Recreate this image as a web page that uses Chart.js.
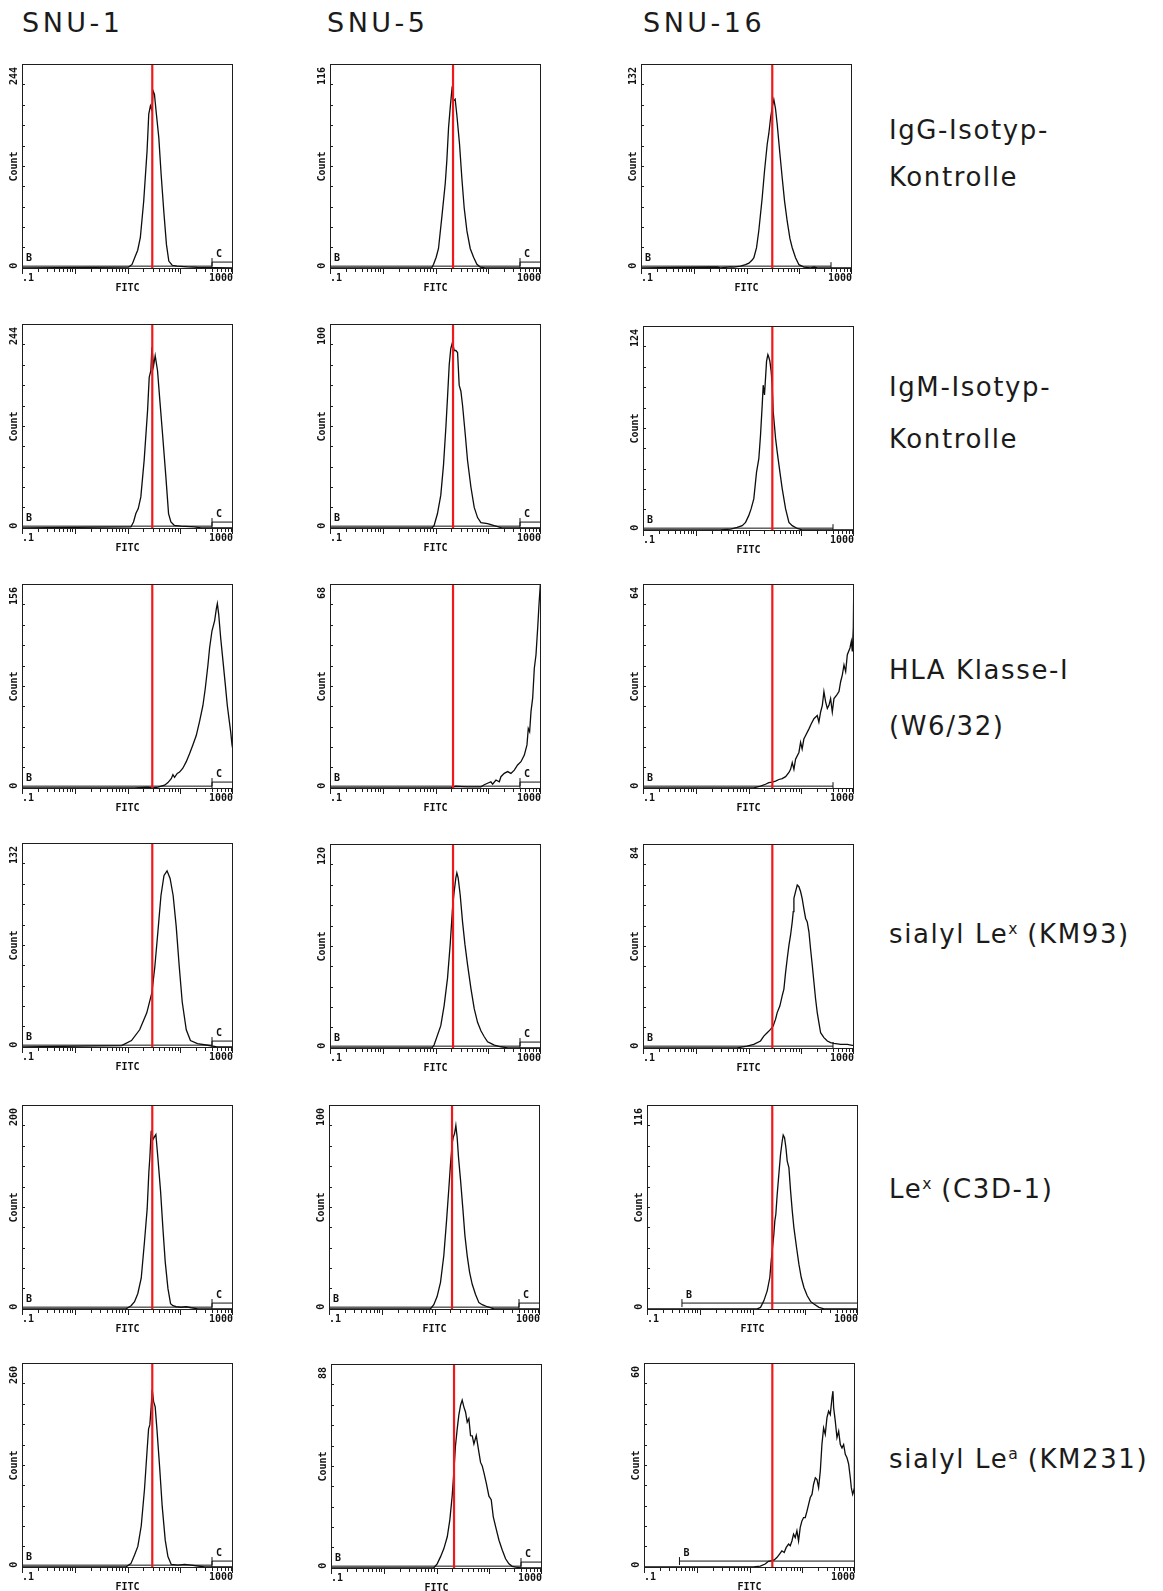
<!DOCTYPE html>
<html>
<head>
<meta charset="utf-8">
<title>FACS histograms SNU-1 / SNU-5 / SNU-16</title>
<script src="https://cdn.jsdelivr.net/npm/chart.js@4.4.1/dist/chart.umd.min.js"></script>
<style>
  html, body { margin: 0; padding: 0; background: #fff; }
  #page { position: relative; width: 1163px; height: 1591px; overflow: hidden; }
  .hdr, .lbl { position: absolute; font-family: 'DejaVu Sans', Verdana, sans-serif; color: #1b1b1b; white-space: nowrap; }
  .hdr { font-size: 27px; line-height: 27px; letter-spacing: 3.5px; }
  .lbl { font-size: 26px; line-height: 26px; letter-spacing: 1.6px; }
  .sup { position: relative; top: -0.55em; font-size: 0.6em; letter-spacing: 0; }
  canvas { position: absolute; }
</style>
</head>
<body>
<div id="page"></div>
<script>
// Column headers (cell lines) and row labels (antibodies)
const cellLines = ['SNU-1', 'SNU-5', 'SNU-16'];
const stainings = [
  ['IgG-Isotyp-', 'Kontrolle'],
  ['IgM-Isotyp-', 'Kontrolle'],
  ['HLA Klasse-I', '(W6/32)'],
  ['sialyl Le<span class="sup">x</span> (KM93)'],
  ['Le<span class="sup">x</span> (C3D-1)'],
  ['sialyl Le<span class="sup">a</span> (KM231)'],
];

// y-axis maximum printed on each histogram (rows x columns)
const countMax = [
  [244, 116, 132],
  [244, 100, 124],
  [156, 68, 64],
  [132, 120, 84],
  [200, 100, 116],
  [260, 88, 60],
];

// FITC position of the red isotype cut-off line
const cutoffs = [
  [29.5, 21.5, 30.8],
  [29.5, 21.5, 28.3],
  [29.5, 21.5, 28.3],
  [29.5, 21.5, 28.3],
  [29.5, 21.5, 23.7],
  [29.5, 21.5, 27.1],
];

// Marker regions B and C (FITC ranges), null = not shown
const gateB = [
  [[0.1, 400], [0.1, 400], [0.1, 400]],
  [[0.1, 400], [0.1, 400], [0.1, 400]],
  [[0.1, 400], [0.1, 400], [0.1, 400]],
  [[0.1, 400], [0.1, 400], [0.1, 400]],
  [[0.1, 400], [0.1, 400], [0.46, 1000]],
  [[0.1, 400], [0.1, 400], [0.47, 1000]],
];
const gateC = [
  [[400, 1000], [400, 1000], null],
  [[400, 1000], [400, 1000], null],
  [[400, 1000], [400, 1000], null],
  [[400, 1000], [400, 1000], null],
  [[400, 1000], [400, 1000], null],
  [[400, 1000], [400, 1000], null],
];

// Histogram traces: [FITC, count]
const snu1IgG = [[0.1,0],[10.5,0.8],[12.2,4],[14.1,14],[15.6,21],[17.5,36],[20.3,80],[23.5,140],[25.3,184],[27.2,194],[29.2,188],[30.5,212],[32.4,208],[35.3,184],[39.2,156],[43.4,112],[48.7,68],[54.7,28],[60.7,8],[70.2,3],[87.3,2],[135,1],[210,0.5],[1000,0]];
const snu5IgG = [[0.1,0],[8.5,0],[9.2,2],[10.3,6],[11.4,11],[13.2,29],[15.3,48],[16.4,61],[17.7,80],[19.0,91],[20.4,101],[22.0,95],[23.6,96],[25.4,87],[28.6,70],[31.6,51],[35.0,34],[39.4,21],[45.5,11],[52.7,6],[60.9,2],[70.5,0.4],[87.7,0],[1000,0]];
const snu16IgG = [[0.1,0],[2.8,0.5],[3.2,0],[5.0,0.6],[5.7,0.4],[7.7,1],[9.6,2],[11.1,3],[12.8,5],[13.8,6.5],[15.5,13],[17.1,24],[19.8,45],[22.0,63],[24.7,80],[26.5,87],[28.6,97],[30.7,104],[33.0,109],[35.5,103],[38.2,93],[42.4,76],[47.6,58],[52.7,43],[59.2,30],[66.5,19],[73.6,13],[85.1,6.5],[98.6,2],[123,0.4],[164,0],[190,0.5],[220,0],[1000,0]];

const snu1IgM = [[0.1,0],[11.6,1],[13.0,7],[14.4,17],[16.0,23],[17.9,37],[20.7,81],[24.0,140],[25.8,180],[27.7,188],[29.0,216],[31.2,194],[33.5,206],[37.1,188],[41.1,152],[46.2,112],[53.4,61],[60.0,17],[66.5,7],[76.9,3],[103,2],[185,1],[247,0],[1000,0]];
const snu5IgM = [[0.1,0],[8.6,0],[9.4,1],[10.9,7],[12.6,16],[14.2,31],[15.7,49],[16.9,64],[18.2,80],[19.5,88],[21.0,91],[22.6,87],[24.3,87],[26.2,86],[28.1,70],[30.3,67],[32.6,60],[36.6,46],[40.5,33],[46.9,20],[54.2,10],[62.7,5],[72.6,2.5],[97.1,2],[130,1],[180,0],[1000,0]];
const snu16IgM = [[0.1,0],[2.9,0],[4.6,0.4],[6.1,1.4],[7.6,2.5],[8.8,4.5],[10.1,8.6],[11.2,12.7],[12.6,18.8],[14.2,35.1],[15.7,43.3],[16.9,57.6],[18.2,76],[19.0,88],[20.1,82],[22.0,102.6],[23.3,106.6],[24.3,105],[25.4,102.6],[26.9,96.4],[28.1,88],[29.4,72],[32.6,55.6],[35.0,47.4],[39.4,35.1],[43.6,24.9],[50.5,12.7],[58.4,4.5],[67.5,2.5],[84.0,0.8],[104,0],[1000,0]];

const snu1HLA = [[0.1,0],[13.6,0],[24.3,0.5],[30.3,0],[37.7,0.5],[50.5,2],[58.4,4],[67.5,7],[72.6,10],[78.0,8],[87.7,11],[97.1,12],[112,15],[130,20],[150,26],[174,33],[201,40],[233,51],[269,63],[298,76],[335,94],[360,107],[399,120],[449,128],[483,137],[505,141],[535,133],[583,115],[646,97],[715,79],[780,63],[839,53],[903,43],[957,33],[986,30],[1000,170]];
const snu5HLA = [[0.1,0],[19.5,0],[24,0.5],[40,0.3],[72.6,0.3],[84,1],[97.1,1.5],[112,2],[121,1.2],[140,2.6],[162,2],[174,3.7],[201,4.8],[233,5.4],[269,4.8],[312,5.9],[360,7.6],[417,8.7],[483,10.9],[542,14.3],[574,19.8],[609,18.7],[646,25.4],[695,29.9],[747,39.9],[804,44.4],[865,53.3],[916,61.1],[971,67.8],[1000,72]];
const snu16HLA = [[0.1,0],[6.1,0],[12.6,0],[16.9,0.5],[21.0,1.1],[24.3,1.6],[28.1,1.8],[32.6,2.1],[37.7,2.6],[43.6,2.9],[50.5,3.5],[58.4,4.8],[62.7,5.8],[67.5,7.9],[72.6,5.8],[78.0,9.0],[90.3,11.1],[97.1,14.3],[104,12.2],[112,15.3],[121,16.4],[140,18.5],[155,20.1],[174,21.7],[201,22.7],[216,20.6],[233,23.8],[251,25.9],[269,30.2],[290,27.0],[312,24.9],[335,25.9],[360,28.0],[388,23.8],[417,28.0],[469,29.1],[519,30.2],[558,33.3],[600,35.4],[646,38.6],[695,36.5],[747,41.8],[839,43.9],[890,46.0],[929,42.8],[971,50.3],[1000,70]];

const snu1SLex = [[0.1,0],[7.7,0.7],[11.9,4],[17.0,11],[23.2,22],[29.0,35],[33.0,52],[37.8,75],[43.1,98],[49.2,111],[56.2,114],[64.2,109],[73.3,98],[83.8,78],[95.7,52],[109,29],[130,11],[156,4],[212,2],[330,1],[500,0],[1000,0]];
const snu5SLex = [[0.1,0],[8.6,0],[9.4,1.6],[12.6,13],[14.6,25],[16.9,41],[19.0,61],[21.0,82],[22.6,92],[24.3,100],[25.4,103],[26.9,100],[29.4,90],[32.6,74],[36.1,61],[40.5,49],[46.9,35],[54.2,23],[62.7,15],[72.6,10],[84.0,6.5],[97.1,3.5],[112,2.6],[130,1.6],[174,0.6],[233,0],[990,0],[1000,9]];
const snu16SLex = [[0.1,0],[6.1,0],[9.4,0.7],[12.6,1.4],[16.9,2.8],[19.5,4.8],[22.6,6.2],[26.2,7.6],[29.4,9.0],[32.6,11.8],[35.0,14.5],[39.4,17.3],[43.6,21.5],[46.9,24.2],[50.5,31.1],[54.2,36.7],[58.4,42.2],[62.7,46.4],[67.5,51.9],[70.5,56.1],[72.6,61.6],[78.0,64.4],[84.0,67.1],[90.3,66.4],[97.1,64.4],[104,61.6],[112,57.4],[121,53.3],[130,51.9],[140,47.7],[150,40.8],[162,33.9],[174,27.0],[187,20.1],[201,14.5],[216,10.4],[233,6.2],[269,4.2],[312,2.8],[360,2.1],[417,1.8],[558,1.4],[747,1.4],[929,1.0],[990,1],[1000,59]];

const snu1Lex = [[0.1,0],[9.4,0],[11.7,3],[13.6,7],[15.7,15],[18.2,30],[21.0,66],[23.6,98],[25.4,134],[26.5,148],[28.1,174],[29.0,175],[30.3,166],[32.6,169],[34.5,171],[37.7,148],[42.4,115],[46.9,79],[51.9,46],[58.4,20],[65.5,5],[72.6,3],[84.0,2],[104,1.5],[130,2],[162,1],[216,0],[1000,0]];
const snu5Lex = [[0.1,0],[8.4,0],[9.7,2],[11.2,6],[13.0,13],[15.0,26],[16.9,43],[18.7,59],[20.1,71],[21.6,81],[22.6,84],[24.0,86],[25.4,90],[26.9,84],[28.6,74],[31.2,63],[34.5,49],[37.7,36],[41.7,26],[46.2,18],[51.9,12],[60.0,7],[69.5,3],[80.4,2],[100,1],[134,0],[1000,0]];
const snu16Lex = [[0.1,0],[9.2,0],[12.3,0],[14.2,0.8],[16.4,4.5],[19.0,10.2],[21.3,17.8],[22.6,27.3],[24.0,34.9],[25.4,42.4],[26.5,50],[27.7,53.8],[29.4,65.2],[31.6,76.6],[34.0,87.9],[36.6,95.5],[38.2,98.9],[40.5,97.4],[43.0,91.7],[45.5,84.1],[49.0,80.3],[52.7,67.1],[56.7,55.7],[60.9,46.2],[68.4,34.9],[75.8,25.4],[84.0,17.8],[94.4,12.1],[109,7.4],[126,4.2],[146,2.7],[182,0.8],[226,0],[1000,0]];

const snu1SLea = [[0.1,0],[9.4,0],[11.6,4],[13.6,15],[15.7,26],[18.2,52],[21.0,99],[23.6,150],[25.1,176],[26.5,181],[28.1,204],[29.4,226],[31.2,211],[33.5,204],[36.1,176],[40.5,129],[45.5,77],[51.9,34],[58.4,13],[67.5,3],[90.3,2],[121,3],[162,2],[216,1],[290,0],[1000,0]];
const snu5SLea = [[0.1,0],[8.9,0],[10.3,1.7],[11.9,4.7],[13.8,8.3],[16.0,13.4],[17.9,20.7],[19.8,30.9],[21.3,41.1],[22.9,52.7],[24.7,60],[26.5,65.9],[28.6,70.2],[30.7,72.4],[33.0,69.5],[35.5,67.3],[38.2,62.9],[41.1,64.4],[44.2,57.1],[47.6,57],[51.2,53.5],[56.7,57.1],[63.7,49.8],[68.4,45.5],[73.6,44],[79.2,41.1],[87.7,36.7],[98.6,30.9],[109,29.4],[119,22.1],[132,17.8],[153,11.9],[177,7.6],[204,3.9],[236,1.7],[273,0.6],[316,0.3],[400,0],[1000,0]];
const snu16SLea = [[0.1,0],[11.9,0],[16.0,0.2],[19.8,0.8],[22.9,1.6],[26.5,1.8],[29.4,2.0],[33.0,2.7],[37.1,3.7],[41.1,4.7],[45.5,4.2],[49.7,5.7],[55.1,6.7],[59.2,6.2],[63.7,7.6],[68.4,9.6],[73.6,8.6],[79.2,10.6],[85.1,7.6],[91.6,11.6],[98.6,13.5],[106,14.5],[114,14.5],[123,16.4],[132,18.4],[142,20.4],[153,21.3],[164,24.3],[177,26.2],[190,25.7],[204,23.3],[220,28.2],[236,36.0],[254,40.9],[273,39.0],[294,43.9],[316,45.8],[340,44.8],[366,49.7],[382,51.7],[394,46.8],[423,42.9],[455,38.0],[490,39.9],[527,36.0],[567,35.0],[609,36.0],[655,33.1],[705,32.1],[758,30.2],[815,26.2],[851,23.3],[903,21.3],[944,22.3],[971,23.3],[1000,66]];

const histograms = [
  [snu1IgG, snu5IgG, snu16IgG],
  [snu1IgM, snu5IgM, snu16IgM],
  [snu1HLA, snu5HLA, snu16HLA],
  [snu1SLex, snu5SLex, snu16SLex],
  [snu1Lex, snu5Lex, snu16Lex],
  [snu1SLea, snu5SLea, snu16SLea],
];

// Page layout: plot frame position of each panel (px)
const FRAME_W = 211, FRAME_H = 206;
const PAD = { left: 26, top: 4, right: 8, bottom: 28 };
const frameLeft = [
  [22, 330, 641], [22, 330, 643], [22, 330, 643],
  [22, 330, 643], [22, 329, 647], [22, 331, 644],
];
const frameTop = [
  [63, 63, 63], [323, 323, 325], [583, 583, 583],
  [842, 843, 843], [1104, 1104, 1104], [1362, 1363, 1362],
];
const headerX = [22, 327, 643];
const labelX = 889;
const labelCenters = [[129, 176], [386, 438], [669, 725], [933], [1188], [1458]];

const page = document.getElementById('page');

// Headers and row labels as plain HTML text
cellLines.forEach((name, i) => {
  const d = document.createElement('div');
  d.className = 'hdr';
  d.style.left = headerX[i] + 'px';
  d.style.top = (22 - 13) + 'px';
  d.textContent = name;
  page.appendChild(d);
});
stainings.forEach((lines, r) => {
  lines.forEach((txt, k) => {
    const d = document.createElement('div');
    d.className = 'lbl';
    d.style.left = labelX + 'px';
    d.style.top = (labelCenters[r][k] - 12.5) + 'px';
    d.innerHTML = txt;
    page.appendChild(d);
  });
});

// Frame, log ticks, axis texts and gate letters, all placed from the chart's scales
const facsDecor = {
  id: 'facsDecor',
  afterDraw(chart, args, o) {
    const { ctx, chartArea: a, scales: { x, y } } = chart;
    const seg = (x1, y1, x2, y2) => { ctx.beginPath(); ctx.moveTo(x1, y1); ctx.lineTo(x2, y2); ctx.stroke(); };
    ctx.save();
    ctx.strokeStyle = '#1e1e1e';
    ctx.lineWidth = 1;
    ctx.strokeRect(a.left + 0.5, a.top + 0.5, a.right - a.left - 1, a.bottom - a.top - 1);

    // log decade ticks below the x axis
    for (let d = -1; d < 3; d++) {
      for (let m = 1; m < 10; m++) {
        const px = Math.round(x.getPixelForValue(m * Math.pow(10, d))) + 0.5;
        seg(px, a.bottom, px, a.bottom + (m === 1 ? 5 : 3));
      }
    }
    seg(a.right - 0.5, a.bottom, a.right - 0.5, a.bottom + 5);

    // small inner ticks on the count axis
    for (let k = 1; k < 10; k++) {
      const py = Math.round(y.getPixelForValue(o.max * k / 10)) + 0.5;
      seg(a.left, py, a.left + 3, py);
    }

    ctx.fillStyle = '#111';
    ctx.font = 'bold 10px "DejaVu Sans Mono", monospace';
    ctx.textBaseline = 'middle';
    ctx.textAlign = 'left';
    ctx.fillText('.1', a.left, a.bottom + 9);
    ctx.textAlign = 'right';
    ctx.fillText('1000', a.right, a.bottom + 9);
    ctx.textAlign = 'center';
    ctx.fillText('FITC', (a.left + a.right) / 2, a.bottom + 19);

    const rotated = (text, py, align) => {
      ctx.save();
      ctx.translate(a.left - 8, py);
      ctx.rotate(-Math.PI / 2);
      ctx.textAlign = align;
      ctx.fillText(text, 0, 0);
      ctx.restore();
    };
    rotated(String(o.max), a.top + 3, 'right');
    rotated('0', y.getPixelForValue(0) - 2, 'center');
    rotated('Count', (a.top + a.bottom) / 2, 'center');

    ctx.textAlign = 'left';
    o.gates.forEach(g => {
      ctx.fillText(g.name, x.getPixelForValue(g.range[0]) + 4, y.getPixelForValue(g.level) - 8);
    });
    ctx.restore();
  },
};

// One Chart.js chart per panel
histograms.forEach((row, r) => {
  row.forEach((hist, c) => {
    const max = countMax[r][c];
    const L = frameLeft[r][c], T = frameTop[r][c];
    const cv = document.createElement('canvas');
    const w = PAD.left + FRAME_W + PAD.right, h = PAD.top + FRAME_H + PAD.bottom;
    cv.width = w; cv.height = h;
    cv.style.width = w + 'px'; cv.style.height = h + 'px';
    cv.style.left = (L - PAD.left) + 'px';
    cv.style.top = (T - PAD.top) + 'px';
    page.appendChild(cv);

    const yMin = -0.006 * max;
    const gates = [];
    const datasets = [
      {
        data: [{ x: cutoffs[r][c], y: yMin }, { x: cutoffs[r][c], y: max }],
        borderColor: '#f01818', borderWidth: 2.2, pointRadius: 0, order: 0,
      },
      {
        data: hist.map(p => ({ x: p[0], y: p[1] })),
        borderColor: '#0d0d0d', borderWidth: 1.3, pointRadius: 0, tension: 0, order: 2,
      },
    ];
    [['B', gateB[r][c]], ['C', gateC[r][c]]].forEach(([name, g]) => {
      if (!g) return;
      const level = (g[0] > 0.1 ? 0.028 : 0.008) * max;
      gates.push({ name, range: g, level });
      datasets.push({
        data: [{ x: g[0], y: level }, { x: g[1], y: level }],
        borderColor: '#111', borderWidth: 1, order: 1,
        pointStyle: 'line', pointRotation: 90, pointRadius: 4,
        pointBorderColor: '#111', pointBorderWidth: 1,
      });
    });

    new Chart(cv, {
      type: 'line',
      data: { datasets },
      options: {
        responsive: false,
        animation: false,
        devicePixelRatio: 1,
        events: [],
        layout: { padding: PAD },
        plugins: {
          legend: { display: false },
          tooltip: { enabled: false },
          facsDecor: { max, gates },
        },
        scales: {
          x: { type: 'logarithmic', min: 0.1, max: 1000, display: false },
          y: { type: 'linear', min: yMin, max: max, display: false },
        },
      },
      plugins: [facsDecor],
    });
  });
});
</script>
</body>
</html>
